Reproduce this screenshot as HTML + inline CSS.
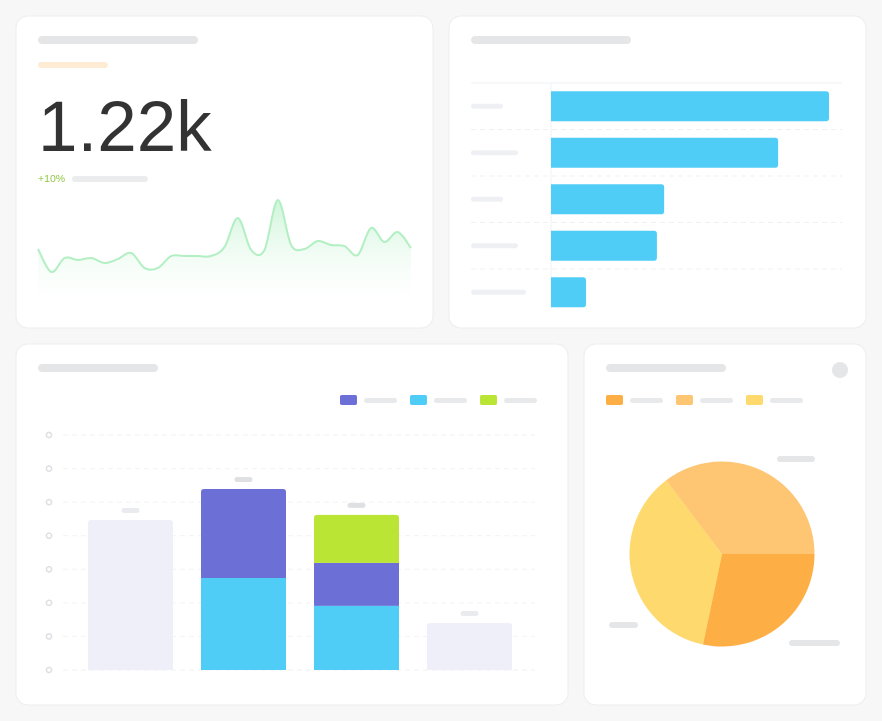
<!DOCTYPE html>
<html><head><meta charset="utf-8">
<style>
html,body{margin:0;padding:0;background:#f7f7f7;width:882px;height:721px;overflow:hidden;font-family:"Liberation Sans",sans-serif}
svg{display:block}
</style></head>
<body>
<svg id="root" width="882" height="721" viewBox="0 0 882 721">
<defs>
<linearGradient id="g1" x1="0" y1="0" x2="0" y2="1">
<stop offset="0" stop-color="#c9f3d4" stop-opacity="0.9"/>
<stop offset="1" stop-color="#ffffff" stop-opacity="0.2"/>
</linearGradient>
</defs>
<rect width="882" height="721" fill="#f7f7f7"/>
<!-- cards -->
<rect x="16" y="16" width="417" height="312" rx="12" fill="#fff" stroke="#ededed"/>
<rect x="449" y="16" width="417" height="312" rx="12" fill="#fff" stroke="#ededed"/>
<rect x="16" y="344" width="552" height="361" rx="12" fill="#fff" stroke="#ededed"/>
<rect x="584" y="344" width="282" height="361" rx="12" fill="#fff" stroke="#ededed"/>

<!-- KPI card -->
<rect x="38" y="36" width="160" height="8" rx="4" fill="#e5e6e8"/>
<rect x="38" y="62" width="70" height="6" rx="3" fill="#fdebd3"/>
<text x="38" y="151" font-size="71" fill="#333" font-family="Liberation Sans, sans-serif">1.22k</text>
<text x="38" y="182" font-size="10.5" fill="#8cc63f" font-family="Liberation Sans, sans-serif">+10%</text>
<rect x="72" y="176" width="76" height="6" rx="3" fill="#ebecee"/>
<g id="spark"></g>

<!-- hbar card -->
<rect x="471" y="36" width="160" height="8" rx="4" fill="#e5e6e8"/>
<g id="hbar"></g>

<!-- stacked card -->
<rect x="38" y="364" width="120" height="8" rx="4" fill="#e5e6e8"/>
<g id="stack"></g>

<!-- pie card -->
<rect x="606" y="364" width="120" height="8" rx="4" fill="#e5e6e8"/>
<circle cx="840" cy="370" r="8" fill="#e5e6e8"/>
<g id="pie"></g>
</svg>
<script>
const NS='http://www.w3.org/2000/svg';
function mk(tag,attrs,parent){const e=document.createElementNS(NS,tag);for(const k in attrs)e.setAttribute(k,attrs[k]);parent.appendChild(e);return e;}

// ---- sparkline data ----
const sparkValues=[51,28,42,40,42,37,41,47,32,32,44,44,44,44,53,82,50,50,100,55,51,59,55,54,45,72,58,68,52];
const sparkX0=38,sparkX1=411,sparkBase=300,sparkTop=200,sparkMax=100,sparkMin=0;
(function(){
  const g=document.getElementById('spark');
  const n=sparkValues.length;
  const xs=i=>sparkX0+(sparkX1-sparkX0)*i/(n-1);
  const ys=v=>sparkBase-(v-sparkMin)/(sparkMax-sparkMin)*(sparkBase-sparkTop);
  const pts=sparkValues.map((v,i)=>[xs(i),ys(v)]);
  let d='M'+pts[0][0]+','+pts[0][1];
  for(let i=0;i<n-1;i++){
    const p0=pts[Math.max(0,i-1)],p1=pts[i],p2=pts[i+1],p3=pts[Math.min(n-1,i+2)];
    const c1=[p1[0]+(p2[0]-p0[0])/6,p1[1]+(p2[1]-p0[1])/6];
    const c2=[p2[0]-(p3[0]-p1[0])/6,p2[1]-(p3[1]-p1[1])/6];
    d+=' C'+c1[0]+','+c1[1]+' '+c2[0]+','+c2[1]+' '+p2[0]+','+p2[1];
  }
  const area=mk('path',{d:d+' L'+sparkX1+','+(sparkBase+4)+' L'+sparkX0+','+(sparkBase+4)+' Z',fill:'url(#g1)'},g);
  
  
  const line=mk('path',{d:d,fill:'none',stroke:'#b2efc3','stroke-width':2},g);
  
  
})();

// ---- horizontal bar data ----
const hbarCategories=['a','b','c','d','e'];
const hbarValues=[100,81.7,40.7,38.1,12.6];
const hbarLabelWidths=[32,47,32,47,55];
(function(){
  const g=document.getElementById('hbar');
  const x0=551,x1=829,top=83,rowH=46.5,maxV=100;
  const xs=v=>x0+(x1-x0)*v/maxV;
  const tl=mk('line',{x1:471,x2:842,y1:top,y2:top,stroke:'#eef0f3'},g);
  
  
  for(let i=1;i<hbarCategories.length;i++){
    const l=mk('line',{x1:471,x2:842,y1:top+rowH*i,y2:top+rowH*i,stroke:'#eef0f3','stroke-dasharray':'5 4'},g);
    
    
  }
  const ax=mk('line',{x1:x0,x2:x0,y1:top,y2:308,stroke:'#eef0f3'},g);
  
  
  hbarCategories.forEach((c,i)=>{
    const cy=top+rowH*i+rowH/2;
    const lab=mk('rect',{x:471,y:cy-2.5,width:hbarLabelWidths[i],height:5,rx:2.5,fill:'#eef0f3'},g);
    
    
    const w=xs(hbarValues[i])-x0;
    const b=mk('path',{d:`M${x0},${cy-15} h${w-3} q3,0 3,3 v24 q0,3 -3,3 h${-(w-3)} Z`,fill:'#50cdf6'},g);
    
    
  });
})();

// ---- stacked bar data ----
const stackCategories=['q1','q2','q3','q4'];
const seriesCyan=[0,2.74,1.91,0];
const seriesPurple=[0,2.65,1.28,0];
const seriesGreen=[0,0,1.43,0];
const seriesGhost=[4.47,0,0,1.4];
const stackTicks=[0,1,2,3,4,5,6,7];
(function(){
  const g=document.getElementById('stack');
  const base=670,unit=33.57,bx0=88,pitch=113,bw=85;
  const ys=v=>base-v*unit;
  stackTicks.forEach(t=>{
    const y=ys(t);
    const l=mk('line',{x1:63,x2:535,y1:y,y2:y,stroke:'#f1f2f4','stroke-dasharray':'5 4'},g);
    
    
    const c=mk('circle',{cx:49,cy:y,r:2.6,fill:'none',stroke:'#dfe0e3','stroke-width':1.6},g);
    
    
  });
  function seg(x,y0,y1,fill,name,round){
    const h=y0-y1;
    const d=round?`M${x},${y0} V${y1+3} q0,-3 3,-3 h${bw-6} q3,0 3,3 V${y0} Z`:`M${x},${y0} V${y1} h${bw} V${y0} Z`;
    const p=mk('path',{d:d,fill:fill},g);
    
    
  }
  stackCategories.forEach((c,i)=>{
    const x=bx0+pitch*i;
    let total;
    if(seriesGhost[i]>0){
      total=seriesGhost[i];
      seg(x,base,ys(total),'#efeff9','bar-'+c+'-ghost',true);
    } else {
      const v1=seriesCyan[i],v2=v1+seriesPurple[i],v3=v2+seriesGreen[i];
      total=v3;
      seg(x,base,ys(v1),'#50cdf6','bar-'+c+'-cyan',false);
      seg(x,ys(v1),ys(v2),'#6b6fd6','bar-'+c+'-purple',seriesGreen[i]===0);
      if(seriesGreen[i]>0) seg(x,ys(v2),ys(v3),'#bbe534','bar-'+c+'-green',true);
    }
    const lab=mk('rect',{x:x+bw/2-9,y:ys(total)-12,width:18,height:5,rx:2.5,fill:i===0||i===3?'#eaebee':'#dfe0e3'},g);
    
    
  });
  const leg=[['#6b6fd6',340],['#50cdf6',410],['#bbe534',480]];
  leg.forEach((l,i)=>{
    const s=mk('rect',{x:l[1],y:395,width:17,height:10,rx:2,fill:l[0]},g);
    
    
    const p=mk('rect',{x:l[1]+24,y:398,width:33,height:5,rx:2.5,fill:'#e8e9eb'},g);
    
    
  });
})();

// ---- pie data ----
const pieLabels=['dark','yellow','light'];
const pieValues=[28.3,36.4,35.3];
const pieColors=['#fdae45','#fed96e','#fec572'];
(function(){
  const g=document.getElementById('pie');
  const cx=722,cy=554,r=92.5;
  const tot=pieValues.reduce((a,b)=>a+b,0);
  let a=0;
  pieValues.forEach((v,i)=>{
    const a1=a+v/tot*Math.PI*2;
    const p0=[cx+r*Math.cos(a),cy+r*Math.sin(a)],p1=[cx+r*Math.cos(a1),cy+r*Math.sin(a1)];
    const large=(a1-a)>Math.PI?1:0;
    const s=mk('path',{d:`M${cx},${cy} L${p0[0]},${p0[1]} A${r},${r} 0 ${large} 1 ${p1[0]},${p1[1]} Z`,fill:pieColors[i]},g);
    
    
    a=a1;
  });
  const labs=[[777,456,38],[609,622,29],[789,640,51]];
  labs.forEach((l,i)=>{
    const p=mk('rect',{x:l[0],y:l[1],width:l[2],height:6,rx:3,fill:'#e5e6e8'},g);
    
    
  });
  const leg=[[606,'#fdae45'],[676,'#fec572'],[746,'#fed96e']];
  leg.forEach((l,i)=>{
    const s=mk('rect',{x:l[0],y:395,width:17,height:10,rx:2,fill:l[1]},g);
    
    
    const p=mk('rect',{x:l[0]+24,y:398,width:33,height:5,rx:2.5,fill:'#e8e9eb'},g);
    
    
  });
})();
</script>
</body></html>
